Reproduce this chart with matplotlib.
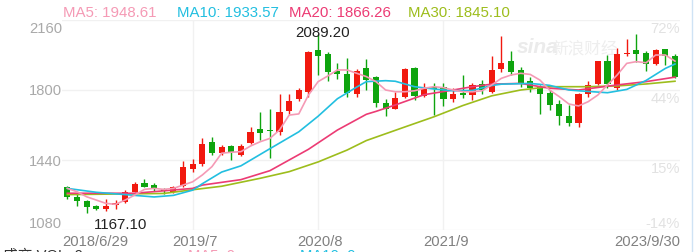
import numpy as np
import matplotlib
matplotlib.use("Agg")
import matplotlib.pyplot as plt
from matplotlib.lines import Line2D

plt.rcParams['font.family'] = ['Liberation Sans', 'Noto Sans CJK SC', 'DejaVu Sans']

# monthly candles 2018/6 .. 2023/9
opens = [1303, 1250, 1231, 1203, 1186, 1211, 1222, 1275, 1323, 1313, 1289, 1275, 1306, 1395, 1418, 1534,
         1474, 1514, 1466, 1526, 1599, 1595, 1586, 1692, 1752, 1791, 2006, 1984, 1899, 1882, 1779, 1915,
         1868, 1731, 1702, 1766, 1913, 1769, 1817, 1817, 1755, 1783, 1774, 1829, 1791, 1906, 1947, 1903,
         1846, 1817, 1786, 1728, 1668, 1632, 1779, 1831, 1948, 1809, 1987, 2006, 1989, 1932, 2011, 1975]
highs = [1307, 1265, 1234, 1210, 1238, 1234, 1285, 1327, 1342, 1320, 1296, 1306, 1436, 1447, 1555, 1560,
         1518, 1517, 1523, 1608, 1685, 1701, 1779, 1779, 1810, 2002, 2089.2, 1997, 1937, 1963, 1906, 1959,
         1874, 1752, 1791, 1915, 1920, 1834, 1834, 1834, 1809, 1877, 1834, 1851, 1975, 2078, 1999, 1917,
         1868, 1826, 1800, 1749, 1723, 1783, 1846, 1951, 1980, 2014, 2062, 2088, 2000, 2010, 2011, 1984]
lows = [1239, 1203, 1167.1, 1181, 1179, 1188, 1220, 1273, 1300, 1280, 1263, 1270, 1303, 1380, 1411, 1466,
        1468, 1440, 1461, 1522, 1543, 1449, 1568, 1675, 1745, 1766, 1877, 1848, 1857, 1766, 1765, 1800,
        1714, 1668, 1700, 1761, 1750, 1762, 1671, 1719, 1740, 1757, 1749, 1779, 1783, 1894, 1877, 1817,
        1791, 1675, 1697, 1620, 1615, 1611, 1766, 1826, 1809, 1800, 1977, 1942, 1899, 1929, 1929, 1860]
closes = [1248, 1228, 1200, 1188, 1203, 1217, 1275, 1317, 1303, 1289, 1281, 1300, 1402, 1419, 1521, 1474,
          1508, 1483, 1514, 1586, 1580, 1589, 1688, 1742, 1800, 1994, 1975, 1894, 1881, 1786, 1899, 1851,
          1735, 1701, 1757, 1906, 1769, 1804, 1807, 1755, 1779, 1774, 1826, 1800, 1903, 1940, 1894, 1834,
          1809, 1779, 1723, 1666, 1632, 1779, 1824, 1948, 1831, 1987, 1992, 1984, 1932, 2006, 1975, 1865]

ma5 = [1294, 1277, 1251, 1234, 1217, 1212, 1234, 1260, 1289, 1294, 1289, 1294, 1311, 1328, 1363, 1406,
       1475, 1480, 1483, 1512, 1534, 1551, 1594, 1671, 1677, 1774, 1843, 1872, 1903, 1903, 1886, 1869,
       1843, 1800, 1791, 1791, 1796, 1809, 1817, 1812, 1800, 1791, 1791, 1796, 1826, 1860, 1877, 1886,
       1880, 1851, 1800, 1766, 1728, 1718, 1740, 1774, 1826, 1877, 1937, 1946, 1940, 1980, 1980, 1948.61]
ma10_idx = [0, 3, 9, 11, 13, 14, 16, 18, 21, 24, 26, 28, 30, 31, 33, 34, 36, 38, 40, 42, 44, 45, 48, 50,
            52, 53, 56, 58, 60, 62, 63]
ma10 = [1294, 1274, 1250, 1258, 1285, 1318, 1378, 1410, 1498, 1585, 1665, 1755, 1815, 1843, 1848, 1845,
        1817, 1805, 1796, 1798, 1823, 1830, 1834, 1824, 1800, 1796, 1786, 1803, 1849, 1911, 1933.57]
ma20_idx = [0, 7, 13, 14, 18, 21, 25, 28, 31, 32, 34, 37, 40, 42, 44, 47, 50, 53, 57, 60, 63]
ma20 = [1269, 1269, 1294, 1311, 1339, 1385, 1495, 1594, 1675, 1690, 1723, 1776, 1800, 1817, 1830, 1834,
        1809, 1800, 1826, 1843, 1866.26]
ma30_idx = [0, 10, 13, 16, 20, 23, 26, 29, 31, 35, 38, 41, 44, 47, 50, 54, 57, 60, 63]
ma30 = [1262, 1268, 1287, 1305, 1346, 1380, 1430, 1491, 1540, 1610, 1662, 1720, 1770, 1800, 1817, 1817,
        1821, 1831, 1845.1]

ma_names = ["MA5: 1948.61", "MA10: 1933.57", "MA20: 1866.26", "MA30: 1845.10"]
ma_colors = ["#f59ab5", "#22bfe0", "#ec3b74", "#9dbd1c"]

y_ticks = [2160, 1800, 1440, 1080]
pct_labels = ["72%", "44%", "15%", "-14%"]
x_tick_idx = [0, 13, 26, 39, 63]
x_tick_labels = ["2018/6/29", "2019/7", "2020/8", "2021/9", "2023/9/30"]

RED = "#f1190f"
GREEN = "#0ea40e"
GRID = "#f1f1f1"

fig = plt.figure(figsize=(6.96, 2.52), dpi=100)
W, H = 696, 252
ax = fig.add_axes([62 / W, 1 - 230 / H, (680 - 62) / W, 210 / H])
ax.set_xlim(-0.55, 63.52)
ax.set_ylim(1080, 2160)
for s in ax.spines.values():
    s.set_visible(False)
ax.set_xticks([])
ax.set_yticks([])

for v in y_ticks:
    ax.axhline(v, color=GRID, lw=1, zorder=0)
for i in x_tick_idx[1:4]:
    ax.axvline(i, color=GRID, lw=1, zorder=0)

# watermark
ax.text(46.6, 1990, "sina", fontsize=15, fontweight='bold', fontstyle='italic',
        color="#ebebeb", zorder=1, va='baseline')
ax.text(50.2, 1990, "新浪财经", fontsize=12, color="#eeeeee", zorder=1, va='baseline',
        family=['Noto Sans CJK SC', 'DejaVu Sans'])

idx = np.arange(len(closes))
o = np.array(opens, float)
c = np.array(closes, float)
up = c >= o
cols = np.where(up, RED, GREEN)
ax.vlines(idx, lows, highs, colors=cols, lw=1, zorder=3)
bottoms = np.minimum(o, c)
heights = np.maximum(np.abs(c - o), 4)
ax.bar(idx, heights, bottom=bottoms, width=0.64, color=cols, zorder=4, linewidth=0)

ax.plot(ma30_idx, ma30, color=ma_colors[3], lw=1.2, zorder=5)
ax.plot(ma20_idx, ma20, color=ma_colors[2], lw=1.2, zorder=5)
ax.plot(ma10_idx, ma10, color=ma_colors[1], lw=1.2, zorder=5)
ax.plot(idx, ma5, color=ma_colors[0], lw=1.2, zorder=6)

# max / min labels
imax = int(np.argmax(highs))
imin = int(np.argmin(lows))
ax.annotate(f"{highs[imax]:.2f}", (imax, highs[imax]), xytext=(3.5, -2.3), textcoords='offset points',
            ha='center', va='baseline', fontsize=10.8, color="#222222", zorder=7)
ax.annotate(f"{lows[imin]:.2f}", (imin, lows[imin]), xytext=(5, -11.3), textcoords='offset points',
            ha='left', va='baseline', fontsize=10.8, color="#222222", zorder=7)

# y labels
left_off = [-9.4, -3.6, -4.1, 1.4]
right_off = [-9.4, -9.4, -9.4, 1.4]
for v, lo, ro, pl in zip(y_ticks, left_off, right_off, pct_labels):
    ax.annotate(str(v), (0, v), xycoords=('axes fraction', 'data'), xytext=(0, lo),
                textcoords='offset points', ha='right', va='baseline', fontsize=10.6,
                color="#a9a9a9", annotation_clip=False)
    ax.annotate(pl, (1, v), xycoords=('axes fraction', 'data'), xytext=(0, ro),
                textcoords='offset points', ha='right', va='baseline', fontsize=10.6,
                color="#e2e2e2", annotation_clip=False, zorder=2)

# x labels
for k, (i, lab) in enumerate(zip(x_tick_idx, x_tick_labels)):
    ha = 'center'
    xy = (i, 0)
    coords = ('data', 'axes fraction')
    dx = 1.5
    if k == 0:
        ha, xy, coords, dx = 'left', (0, 0), 'axes fraction', 0.5
    elif k == len(x_tick_idx) - 1:
        ha, xy, coords, dx = 'right', (1, 0), 'axes fraction', 0.5
    ax.annotate(lab, xy, xycoords=coords, xytext=(dx, -11.5), textcoords='offset points',
                ha=ha, va='baseline', fontsize=10.6, color="#808080", annotation_clip=False)

# legend row
for name, col, px in zip(ma_names, ma_colors, [63, 177, 289, 408]):
    fig.text(px / W, 1 - 17 / H, name, color=col, fontsize=10.8, va='baseline', ha='left')

# volume header, cut off at the bottom edge
fig.text(3 / W, 1 - 248.5 / H, "成交 VOL: 0", color="#333333", fontsize=10.6, va='top', ha='left')
fig.text(188 / W, 1 - 248.5 / H, "MA5: 0", color=ma_colors[0], fontsize=10.6, va='top', ha='left')
fig.text(300 / W, 1 - 248.5 / H, "MA10: 0", color=ma_colors[1], fontsize=10.6, va='top', ha='left')

fig.add_artist(Line2D([692 / W, 692 / W], [0, 1], color="#cfe3f5", lw=1))

fig.savefig("out.png", dpi=100)
